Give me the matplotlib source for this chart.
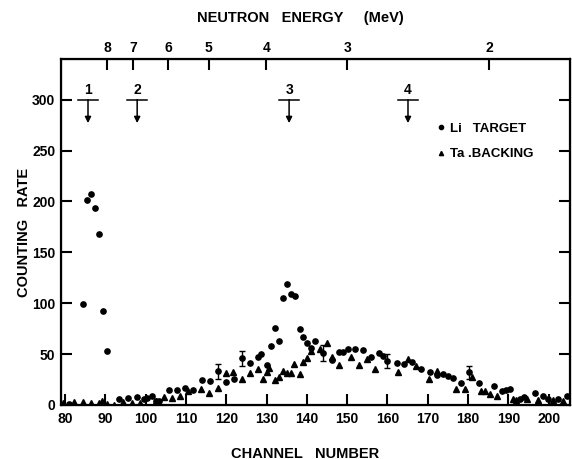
import numpy as np
import matplotlib
matplotlib.use("Agg")
import matplotlib.pyplot as plt

# --- DATA ---
li_channel = [81, 84.5, 85.4, 86.5, 87.4, 88.5, 89.5, 90.5, 93.5, 95.7, 97.8, 99.6, 100.4,
              101.5, 102.6, 103.4, 105.7, 107.7, 109.8, 111.8, 113.9, 116, 118, 120, 121.9,
              123.8, 126, 128, 128.6, 130.2, 131, 132, 133, 134, 135, 136, 137, 138.3, 139.1,
              140.1, 141, 142, 144.1, 146.2, 148.1, 149, 150.1, 152, 154, 155.9, 158, 158.8,
              160, 162.3, 164.2, 166.2, 168.3, 170.5, 172.2, 173.9, 175.1, 176.2, 178.2,
              180.3, 182.6, 186.5, 188.4, 189.5, 190.3, 192.8, 193.8, 196.6, 198.7, 199.9,
              202.3, 204.5]
li_rate = [1, 99, 201, 207, 194, 168, 92, 53, 6, 6.5, 8, 5.5, 7,
           9, 4, 4, 15, 15, 17, 15, 24.5, 24, 33, 23, 25.5,
           46, 41, 47, 50, 39, 58, 76, 63, 105, 119, 109, 107, 75, 67,
           61, 56, 63, 51, 44, 52, 52, 55, 55, 54, 47, 51, 48,
           43, 41.5, 40, 42, 35, 32, 29.4, 30.4, 28.4, 27, 22,
           32, 22, 19, 14, 14.6, 16, 6, 7.8, 11.4, 9, 6,
           6, 8.5]

ta_channel = [79.6, 82.2, 84.4, 86.4, 88.4, 89.1, 90.3, 92.2, 94.3, 96.5, 98.6, 102.6, 104.6,
              106.5, 108.5, 110.6, 113.7, 115.8, 117.9, 120, 121.6, 123.9, 126, 127.8, 129,
              130, 130.7, 132, 133, 134, 135, 136, 136.9, 138.3, 139.1, 140.1, 141, 143.3,
              145.1, 146.2, 148.1, 151, 153, 154.9, 156.9, 162.5, 165, 167, 170.2, 172.2,
              177, 179.3, 181.1, 183.2, 184.3, 185.4, 187.3, 191.2, 192, 194.6, 197.4, 201.1,
              203.6]
ta_rate = [2, 3, 3, 2, 2, 4, 1, 0, 3, 2, 2, 4, 7.5,
           7, 9, 14, 16, 12, 17, 31, 32, 26, 31, 35, 26,
           32, 36, 24.5, 28, 33, 31, 31, 40, 30, 42.5, 46, 53, 55.5,
           61, 47, 39, 47, 39, 45, 35, 32, 45, 38, 26, 33.6,
           15.7, 15.7, 28, 14, 13.4, 11, 9, 5.6, 5, 5.5, 5, 4.6,
           4]

err_channel = [118, 123.8, 144.1, 160, 180.3]
err_rate = [33, 46, 51, 43, 32]
err_size = [7, 7.5, 7.5, 7, 6]

# neutron energy scale (top axis): channel where each energy falls
energy_channel = [90.4, 96.9, 105.6, 115.7, 129.9, 150.0, 185.2]
energy_labels = ["8", "7", "6", "5", "4", "3", "2"]

# numbered markers above the spectrum
peak_channel = [85.7, 97.9, 135.6, 165.1]
peak_labels = ["1", "2", "3", "4"]
peak_level = 300

plt.rcParams["font.family"] = ["Liberation Sans", "DejaVu Sans"]
plt.rcParams["font.weight"] = "bold"

fig = plt.figure(figsize=(5.72, 4.59), dpi=100)
ax = fig.add_axes([61 / 572, 1 - 405 / 459, 509 / 572, 346 / 459])

ax.plot(li_channel, li_rate, "o", color="black", markersize=3.8, label="Li   TARGET")
ax.plot(ta_channel, ta_rate, "^", color="black", markersize=3.8, label="Ta .BACKING")
ax.errorbar(err_channel, err_rate, yerr=err_size, fmt="none", ecolor="black",
            elinewidth=1.0, capsize=2.5, capthick=1.0)

for xc, lab in zip(peak_channel, peak_labels):
    ax.plot([xc - 2.5, xc + 2.5], [peak_level, peak_level], color="black", lw=1.1)
    ax.annotate("", xy=(xc, peak_level - 23), xytext=(xc, peak_level),
                arrowprops=dict(arrowstyle="-|>", color="black", lw=1.1,
                                mutation_scale=9, shrinkA=0, shrinkB=0))
    ax.text(xc, peak_level + 3, lab, ha="center", va="bottom", fontsize=10, fontweight="bold")

ax.set_xlim(79.0, 205.3)
ax.set_ylim(0, 340)
ax.set_xticks(np.arange(80, 201, 10))
ax.set_yticks(np.arange(0, 301, 50))
ax.tick_params(axis="both", direction="in", length=8, width=1.5, labelsize=10,
               right=True, top=False)
ax.tick_params(axis="x", pad=5)
ax.tick_params(axis="y", pad=4)
for sp in ax.spines.values():
    sp.set_linewidth(1.6)

ax.set_xlabel("CHANNEL   NUMBER", fontsize=10.5, fontweight="bold")
ax.set_ylabel("COUNTING   RATE", fontsize=10.5, fontweight="bold")
ax.xaxis.set_label_coords(0.48, -0.12)
ax.yaxis.set_label_coords(-0.058, 0.5)

top = ax.twiny()
top.set_xlim(ax.get_xlim())
top.set_xticks(energy_channel)
top.set_xticklabels(energy_labels)
top.tick_params(axis="x", direction="in", length=8, width=1.5, labelsize=10, pad=3)
top.set_xlabel("NEUTRON   ENERGY     (MeV)", fontsize=10.5, fontweight="bold")
top.xaxis.set_label_coords(0.47, 1.107)

ax.legend(loc="upper left", bbox_to_anchor=(0.715, 0.85), frameon=False, fontsize=9.5,
          handlelength=0.6, handletextpad=0.4, labelspacing=1.0, markerscale=0.8)

fig.savefig("out.png", dpi=100)
